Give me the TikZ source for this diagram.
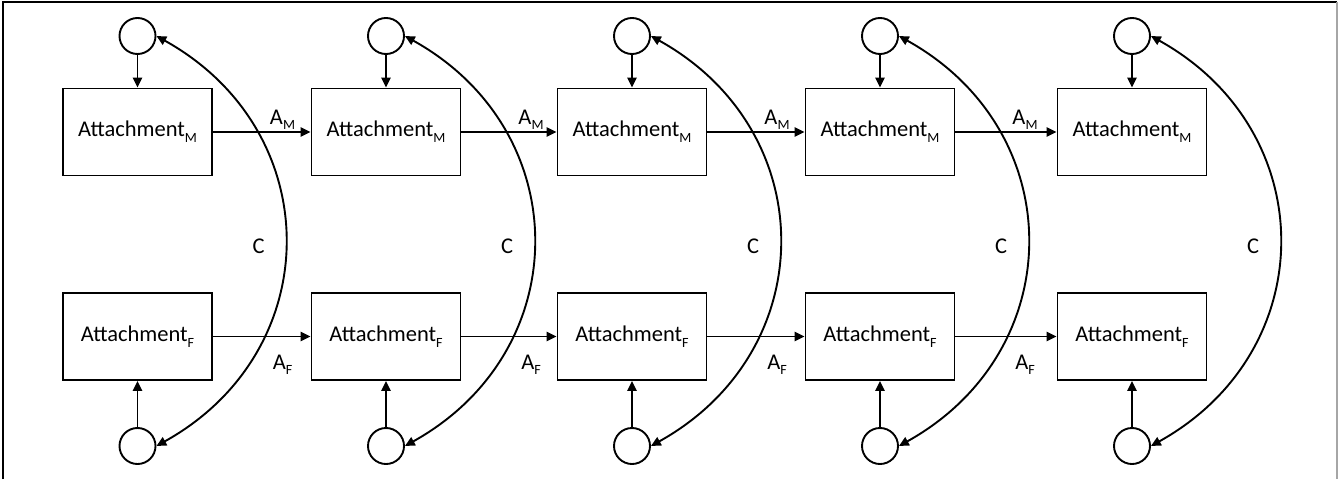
\documentclass[tikz,border=0pt]{standalone}
\usepackage{fontspec}
\setmainfont{Carlito}
\usetikzlibrary{arrows.meta}
\newcommand{\subM}[1]{\raisebox{-4pt}{\fontsize{10}{10}\selectfont #1}}
\begin{document}
\begin{tikzpicture}[x=0.025cm,y=-0.025cm,
  >={Triangle[length=7pt,width=6.5pt]},
  line width=1.35pt,
  abox/.style={draw,line width=1.35pt,minimum width=3.725cm,minimum height=2.175cm,inner sep=0pt,font=\fontsize{16}{18}\selectfont},
  lat/.style={draw,circle,line width=1.35pt,minimum size=0.9cm,inner sep=0pt},
  lab/.style={inner sep=0pt,font=\fontsize{16}{18}\selectfont},
  clab/.style={inner sep=0pt,font=\fontsize{16}{18}\selectfont}]
\useasboundingbox (0,0) rectangle (1338,479);
\draw[line width=1.2pt] (3,479) -- (3,2) -- (1337,2);
\draw[gray!70,line width=1.2pt] (1337,2) -- (1337,479);
\foreach \i/\cx in {1/137.5,2/386,3/632,4/880,5/1132}{
  \node[abox] (m\i) at (\cx,132) {Attachment\subM{M}};
  \node[abox] (f\i) at (\cx,336.5) {Attachment\subM{F}};
  \node[lat] (t\i) at (\cx,36) {};
  \node[lat] (b\i) at (\cx,446) {};
  \draw[->] (t\i) -- (m\i);
  \draw[->] (b\i) -- (f\i);
  \draw[<->] (t\i.east) .. controls +(171,95) and +(171,-95) .. (b\i.east);
  \node[clab] (c\i) at (\cx+121,246) {C};
}
\foreach \i/\j/\cx in {1/2/137.5,2/3/386,3/4/632,4/5/880}{
  \draw[->] (m\i) -- (m\j);
  \draw[->] (f\i) -- (f\j);
  \node[lab,anchor=base] (am\i) at (\cx+145,124) {A\subM{M}};
  \node[lab,anchor=base] (af\i) at (\cx+145,369) {A\subM{F}};
}
\end{tikzpicture}
\end{document}
